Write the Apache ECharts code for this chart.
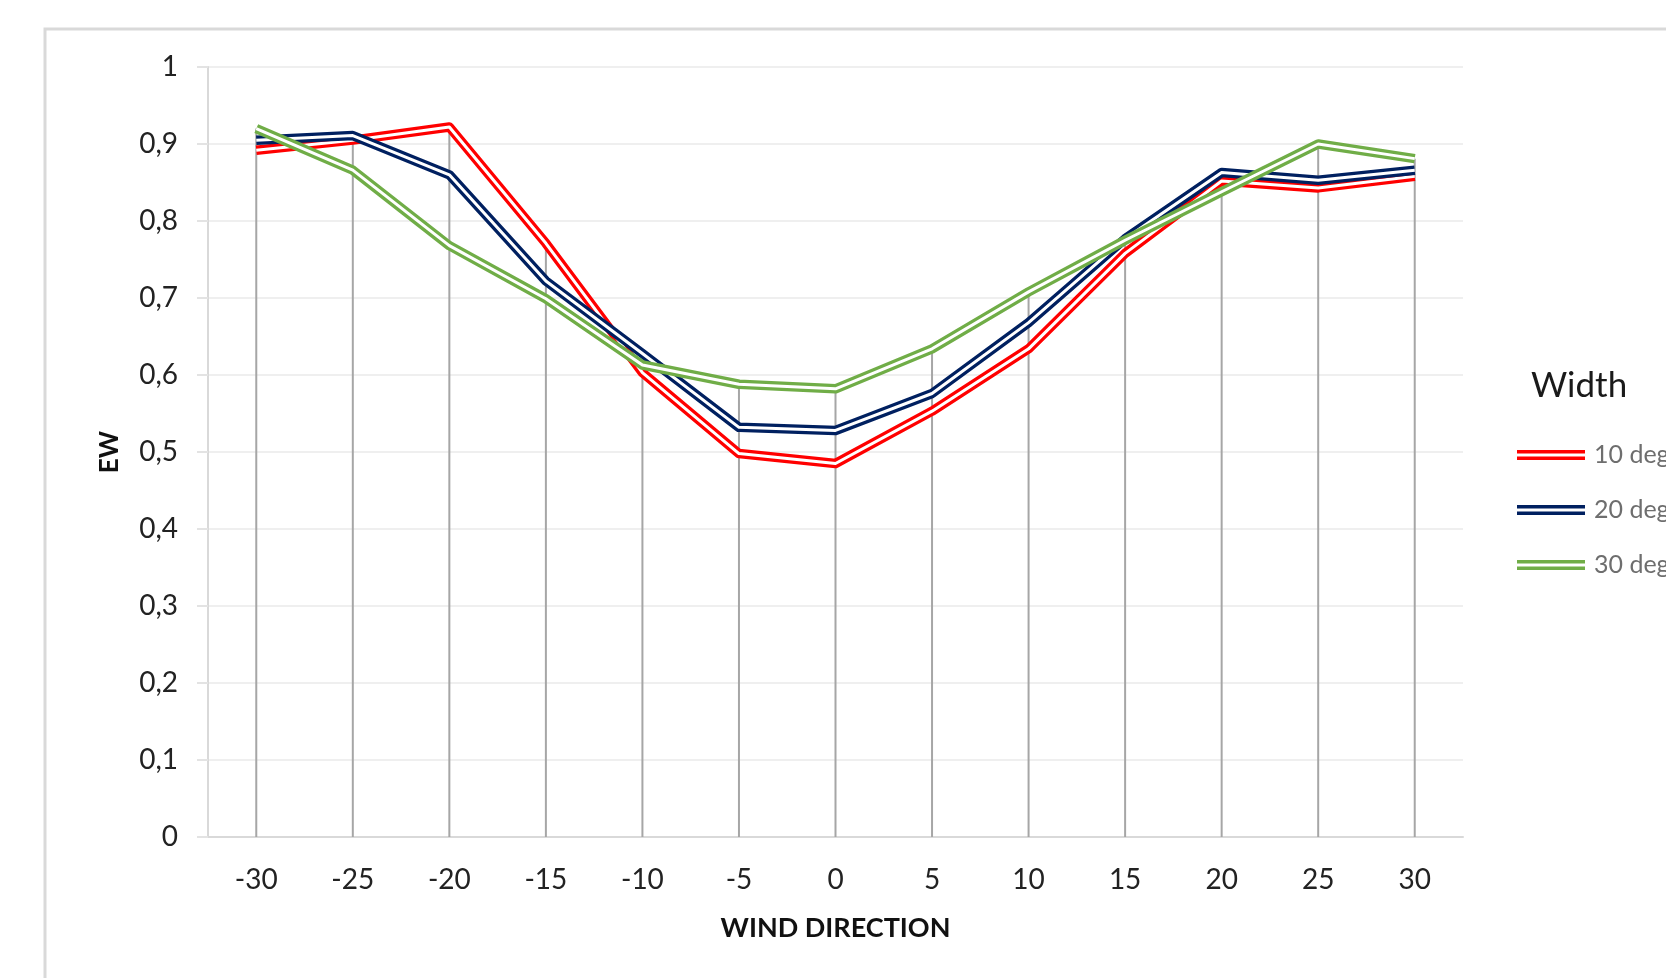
<!DOCTYPE html>
<html>
<head>
<meta charset="utf-8">
<script src="https://cdn.jsdelivr.net/npm/echarts@6/dist/echarts.min.js"></script>
<style>
  html, body { margin: 0; padding: 0; background: #ffffff; }
  #chart { width: 1666px; height: 978px; }
</style>
</head>
<body>
<div id="chart"></div>
<script>
// ---- data ----
var categories = ['-30', '-25', '-20', '-15', '-10', '-5', '0', '5', '10', '15', '20', '25', '30'];
var seriesNames = ['10 deg', '20 deg', '30 deg'];
var deg10 = [0.892, 0.905, 0.922, 0.771, 0.603, 0.498, 0.485, 0.553, 0.634, 0.758, 0.852, 0.843, 0.858];
var deg20 = [0.905, 0.911, 0.860, 0.722, 0.628, 0.532, 0.528, 0.576, 0.668, 0.777, 0.863, 0.853, 0.866];
var deg30 = [0.920, 0.866, 0.768, 0.699, 0.613, 0.588, 0.582, 0.634, 0.708, 0.775, 0.838, 0.900, 0.881];
var yTickLabels = ['0', '0,1', '0,2', '0,3', '0,4', '0,5', '0,6', '0,7', '0,8', '0,9', '1'];

var colors = ['#FF0000', '#002060', '#70AD47'];
var allData = [deg10, deg20, deg30];
var FONT = 'Lato, "Open Sans", sans-serif';

// drop lines: from highest value at each category down to the axis
var dropData = categories.map(function (c, i) {
  return [i, Math.max(deg10[i], deg20[i], deg30[i])];
});

var series = [{
  type: 'custom',
  silent: true,
  z: 1,
  data: dropData,
  renderItem: function (params, api) {
    var top = api.coord([api.value(0), api.value(1)]);
    var bottom = api.coord([api.value(0), 0]);
    return {
      type: 'line',
      shape: { x1: top[0], y1: top[1], x2: bottom[0], y2: bottom[1] },
      style: { stroke: '#a6a6a6', lineWidth: 2 }
    };
  }
}];

allData.forEach(function (d, i) {
  series.push({
    name: seriesNames[i],
    type: 'line',
    data: d,
    symbol: 'none',
    z: 3 + i * 2,
    color: colors[i],
    lineStyle: { color: colors[i], width: 9.5, join: 'round' }
  });
  series.push({
    name: seriesNames[i] + ' inner',
    type: 'line',
    data: d,
    symbol: 'none',
    silent: true,
    z: 4 + i * 2,
    color: '#ffffff',
    lineStyle: { color: '#ffffff', width: 3, join: 'round' }
  });
});

var chart = echarts.init(document.getElementById('chart'), null, { renderer: 'canvas' });
chart.setOption({
  animation: false,
  backgroundColor: '#ffffff',
  textStyle: { fontFamily: FONT },
  grid: { left: 208, top: 67, width: 1255, height: 770, containLabel: false },
  graphic: [
    {
      type: 'rect',
      silent: true,
      shape: { x: 45, y: 29, width: 2000, height: 2000 },
      style: { fill: 'none', stroke: '#d9d9d9', lineWidth: 3 }
    },
    {
      type: 'text',
      left: 1531,
      top: 368,
      style: { text: 'Width', fontFamily: FONT, fontSize: 35, fill: '#1a1a1a' }
    }
  ],
  legend: {
    data: seriesNames,
    orient: 'vertical',
    left: 1517,
    top: 440,
    padding: 0,
    itemWidth: 68,
    itemHeight: 10,
    itemGap: 25,
    icon: 'path://M0,0H68V3.4H0Z M0,6.6H68V10H0Z',
    textStyle: { fontFamily: FONT, fontSize: 25, color: '#6e6e6e', lineHeight: 30, padding: [0, 0, 0, 4] },
    selectedMode: false
  },
  xAxis: {
    type: 'category',
    data: categories,
    boundaryGap: true,
    name: 'WIND DIRECTION',
    nameLocation: 'middle',
    nameGap: 78,
    nameTextStyle: { fontFamily: FONT, fontSize: 27, fontWeight: 'bold', color: '#111111' },
    axisLine: { show: true, lineStyle: { color: '#d9d9d9', width: 2 } },
    axisTick: { show: false },
    axisLabel: { fontFamily: FONT, fontSize: 28, color: '#222222', margin: 29 },
    splitLine: { show: false }
  },
  yAxis: {
    type: 'value',
    min: 0,
    max: 1,
    interval: 0.1,
    name: 'EW',
    nameLocation: 'middle',
    nameRotate: 90,
    nameGap: 85,
    nameTextStyle: { fontFamily: FONT, fontSize: 26, fontWeight: 'bold', color: '#111111' },
    axisLine: { show: true, lineStyle: { color: '#d9d9d9', width: 2 } },
    axisTick: { show: true, inside: false, length: 11, lineStyle: { color: '#e3e3e3', width: 2 } },
    axisLabel: {
      fontFamily: FONT, fontSize: 28, color: '#222222', margin: 30,
      formatter: function (v) { return yTickLabels[Math.round(v * 10)]; }
    },
    splitLine: { show: true, lineStyle: { color: '#efefef', width: 2 } }
  },
  series: series
});
</script>
</body>
</html>
